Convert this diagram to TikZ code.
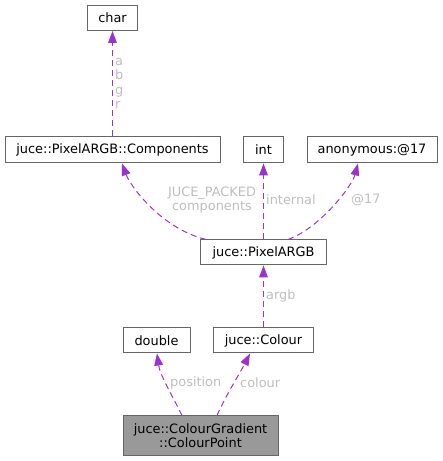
\documentclass[tikz,border=0pt]{standalone}
\usepackage{fontspec}
\setmainfont{DejaVu Sans}
\usetikzlibrary{arrows.meta}

\definecolor{boxline}{HTML}{666666}
\definecolor{boxfill}{HTML}{999999}
\definecolor{orchid}{HTML}{9A32CD}
\definecolor{labelgrey}{HTML}{BEBEBE}

\begin{document}
\begin{tikzpicture}[x=1pt, y=1pt]
    \tikzset{
        cls/.style={
            draw=boxline, line width=1pt, fill=white,
            inner sep=0pt, minimum height=25pt,
            font=\fontsize{12.9}{14.3}\selectfont,
        },
        member/.style={
            draw=orchid, line width=1pt,
            dash pattern=on 6pt off 4pt,
            -{Triangle[length=12pt, width=9pt, fill=orchid, line width=0pt, sep=0pt]},
        },
        lbl/.style={
            text=labelgrey, inner sep=0pt, align=left,
            font=\fontsize{12.9}{14.3}\selectfont,
        },
    }
    \useasboundingbox (0,0) rectangle (443,461);

    % Classes
    \node[cls, minimum width=50pt] (char) at (112.5,443) {char};
    \node[cls, minimum width=215pt, minimum height=26pt] (comp) at (112.5,311) {juce::PixelARGB::Components};
    \node[cls, minimum width=40pt, minimum height=26pt] (int) at (263.5,311) {int};
    \node[cls, minimum width=130pt, minimum height=26pt] (anon) at (372,311) {anonymous:@17};
    \node[cls, minimum width=126pt] (argb) at (263.5,208.5) {juce::PixelARGB};
    \node[cls, minimum width=67pt] (double) at (156.5,120.5) {double};
    \node[cls, minimum width=100pt] (colour) at (263.5,120.5) {juce::Colour};
    \node[cls, fill=boxfill, minimum width=155pt, minimum height=40pt, align=center] (point) at (200.5,25)
        {juce::ColourGradient\\::ColourPoint};

    % Members
    \draw[member] (comp.north) -- (char.south);
    \draw[member] ([xshift=-57.5pt]argb.north) .. controls (160,233) and (130,276) .. ([xshift=9.5pt]comp.south);
    \draw[member] (argb.north) -- (int.south);
    \draw[member] ([xshift=24.5pt]argb.north) .. controls (320,233) and (352,275) .. ([xshift=-14pt]anon.south);
    \draw[member] (colour.north) -- (argb.south);
    \draw[member] ([xshift=-18.5pt]point.north) .. controls (172,66) and (160,86) .. ([xshift=0.5pt]double.south);
    \draw[member] ([xshift=16.5pt]point.north) .. controls (225,64) and (240,88) .. ([xshift=-13.5pt]colour.south);

    % Labels
    \node[lbl, anchor=west] (l-abgr) at (115,377.5) {a\\b\\g\\r};
    \node[lbl, align=center] (l-comp) at (212,261) {JUCE\_PACKED\\components};
    \node[lbl, anchor=west] (l-int) at (266,261) {internal};
    \node[lbl, anchor=west] (l-anon) at (351,261) {@17};
    \node[lbl, anchor=west] (l-argb) at (266,165) {argb};
    \node[lbl, anchor=west] (l-pos) at (170,78) {position};
    \node[lbl, anchor=west] (l-col) at (240,78) {colour};

\end{tikzpicture}
\end{document}
